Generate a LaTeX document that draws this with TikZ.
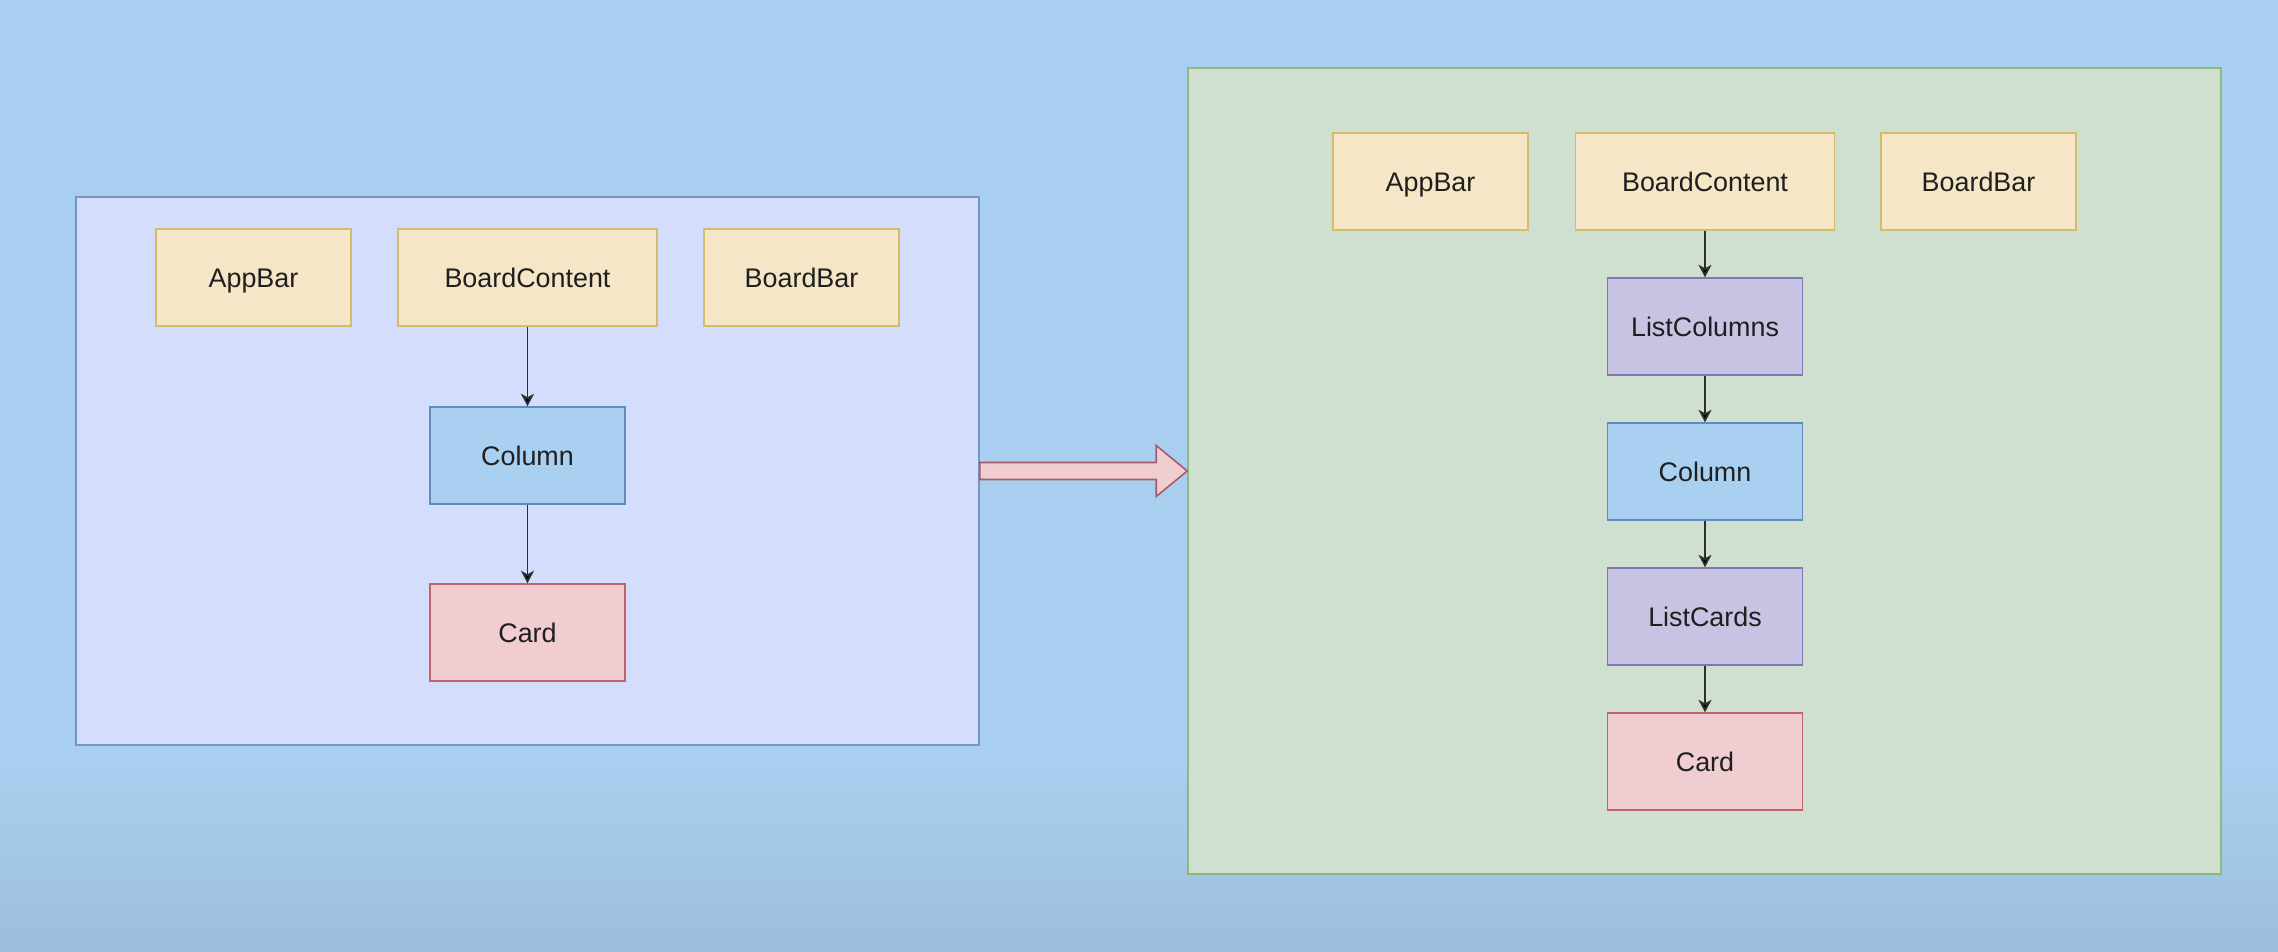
\documentclass[tikz,border=0pt]{standalone}
\usepackage{fontspec}
\setmainfont{Liberation Sans}
\usetikzlibrary{arrows.meta,calc}
\definecolor{bgblue}{HTML}{A8CFF0}
\definecolor{bgdark}{HTML}{9DBEDC}
\definecolor{lavfill}{HTML}{D4DDFB}
\definecolor{lavdraw}{HTML}{7A93C6}
\definecolor{grnfill}{HTML}{CFE0D1}
\definecolor{grndraw}{HTML}{8DBA7A}
\definecolor{yelfill}{HTML}{F4E6C6}
\definecolor{yeldraw}{HTML}{D6BC6A}
\definecolor{bluefill}{HTML}{A9D0F0}
\definecolor{bluedraw}{HTML}{5F8DBA}
\definecolor{purfill}{HTML}{C7C3E3}
\definecolor{purdraw}{HTML}{7F78B0}
\definecolor{redfill}{HTML}{F0CDD0}
\definecolor{reddraw}{HTML}{BF6468}
\definecolor{arrdraw}{HTML}{A85A66}
\begin{document}
\begin{tikzpicture}[x=0.02cm,y=-0.02cm,
box/.style={draw,line width=0.8pt,minimum width=3.9cm,minimum height=1.94cm,inner sep=0pt,
  text height=11pt,text depth=0pt,font=\fontsize{15.3}{18}\selectfont,text=black!88},
yel/.style={box,fill=yelfill,draw=yeldraw},
blu/.style={box,fill=bluefill,draw=bluedraw},
pur/.style={box,fill=purfill,draw=purdraw},
rd/.style={box,fill=redfill,draw=reddraw},
frame/.style={line width=1pt,inner sep=0pt}]
\fill[bgblue] (0,0) rectangle (2278,952);
\shade[top color=bgblue,bottom color=bgdark] (0,760) rectangle (2278,952);
% the two boards
\node[frame,draw=lavdraw,fill=lavfill,minimum width=18.06cm,minimum height=10.96cm] (X) at (527.5,471) {};
\node[frame,draw=grndraw,fill=grnfill,minimum width=20.66cm,minimum height=16.12cm] (Y) at (1704.5,471) {};
% before
\node[yel] (A) at (253.5,277.5) {AppBar};
\node[yel,minimum width=5.18cm] (B) at (527.5,277.5) {BoardContent};
\node[yel] (C) at (801.5,277.5) {BoardBar};
\node[blu] (D) at (527.5,455.5) {Column};
\node[rd] (E) at (527.5,632.5) {Card};
% after
\node[yel] (F) at (1430.5,181.5) {AppBar};
\node[yel,minimum width=5.18cm] (G) at (1705,181.5) {BoardContent};
\node[yel] (H) at (1978.5,181.5) {BoardBar};
\node[pur] (I) at (1705,326.5) {ListColumns};
\node[blu] (J) at (1705,471.5) {Column};
\node[pur] (K) at (1705,616.5) {ListCards};
\node[rd] (L) at (1705,761.5) {Card};
\path[-{Stealth[length=0.25cm,width=0.26cm,inset=0.07cm]},line width=1pt,draw=black!82]
(B) edge (D)
(D) edge (E)
(G) edge (I)
(I) edge (J)
(J) edge (K)
(K) edge (L);
\draw[line width=0.9pt,draw=arrdraw,fill=redfill]
($(X.east)+(0,-8.5)$) -- ($(Y.west)+(-31,-8.5)$) -- ($(Y.west)+(-31,-25.5)$) -- (Y.west)
-- ($(Y.west)+(-31,25.5)$) -- ($(Y.west)+(-31,8.5)$) -- ($(X.east)+(0,8.5)$) -- cycle;
\end{tikzpicture}
\end{document}
